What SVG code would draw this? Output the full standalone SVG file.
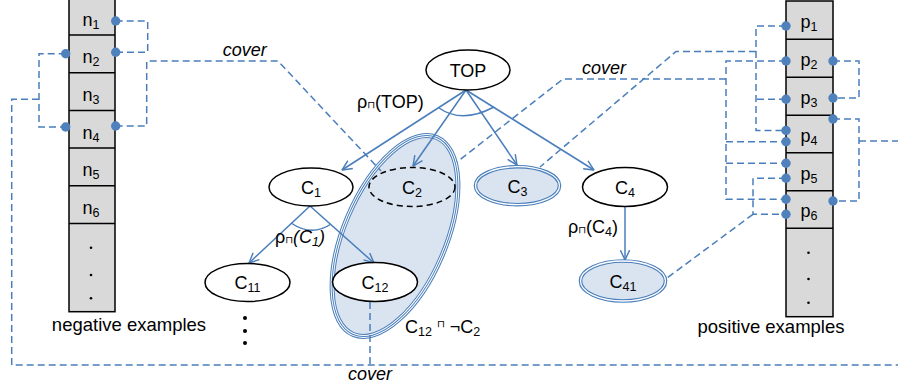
<svg xmlns="http://www.w3.org/2000/svg" width="898" height="389" viewBox="0 0 898 389">
<defs>
<marker id="arr" viewBox="0 0 10 10" refX="9.5" refY="5" markerWidth="11" markerHeight="11" markerUnits="userSpaceOnUse" orient="auto"><path d="M0.5,0.8 L9.5,5 L0.5,9.2" fill="none" stroke="#4a7ebb" stroke-width="1.3"/></marker>
</defs>
<style>
text{font-family:"Liberation Sans",Arial,sans-serif;fill:#000}
.lbl{font-size:18px}
.sub{font-size:12.5px}
.cap{font-family:"DejaVu Sans",sans-serif;font-size:10px}
.big{font-size:18.5px}
.it{font-style:italic;font-size:18px}
.cell{fill:#d9d9d9;stroke:#000;stroke-width:1.5}
.rule{stroke:#000;stroke-width:1.5}
.dash{fill:none;stroke:#4a7ebb;stroke-width:1.5;stroke-dasharray:7 4}
.edge{fill:none;stroke:#4a7ebb;stroke-width:1.5}
.dot{fill:#4f81bd}
.node{fill:#fff;stroke:#000;stroke-width:1.5}
.dn{fill:none;stroke:#000;stroke-width:1.5;stroke-dasharray:6 4}
.dbl{fill:#dae3f0;stroke:#4a7ebb;stroke-width:3.6}
.dblin{fill:none;stroke:#fff;stroke-width:1.3}
.pt{fill:#000}
</style>

<g id="negatives">
<rect class="cell" x="69" y="-3" width="46" height="314.7"/>
<path class="rule" d="M69,35H115M69,72.7H115M69,110.4H115M69,148.1H115M69,185.8H115M69,223.5H115"/>
<text class="lbl" x="91" y="25.5" text-anchor="middle">n<tspan class="sub" dy="3">1</tspan></text>
<text class="lbl" x="91" y="63.2" text-anchor="middle">n<tspan class="sub" dy="3">2</tspan></text>
<text class="lbl" x="91" y="101" text-anchor="middle">n<tspan class="sub" dy="3">3</tspan></text>
<text class="lbl" x="91" y="138.7" text-anchor="middle">n<tspan class="sub" dy="3">4</tspan></text>
<text class="lbl" x="91" y="176.4" text-anchor="middle">n<tspan class="sub" dy="3">5</tspan></text>
<text class="lbl" x="91" y="214" text-anchor="middle">n<tspan class="sub" dy="3">6</tspan></text>
<circle class="pt" cx="91" cy="247.7" r="1.3"/><circle class="pt" cx="91" cy="275" r="1.3"/><circle class="pt" cx="91" cy="298.3" r="1.3"/>
<text class="big" x="129" y="330.7" text-anchor="middle">negative examples</text>
</g>

<g id="positives">
<rect class="cell" x="786" y="1" width="47" height="315.7"/>
<path class="rule" d="M786,39.3H833M786,77.3H833M786,115.3H833M786,152.7H833M786,190.7H833M786,228.3H833"/>
<text class="lbl" x="809" y="28" text-anchor="middle">p<tspan class="sub" dy="3">1</tspan></text>
<text class="lbl" x="809" y="66" text-anchor="middle">p<tspan class="sub" dy="3">2</tspan></text>
<text class="lbl" x="809" y="104" text-anchor="middle">p<tspan class="sub" dy="3">3</tspan></text>
<text class="lbl" x="809" y="141.5" text-anchor="middle">p<tspan class="sub" dy="3">4</tspan></text>
<text class="lbl" x="809" y="179.5" text-anchor="middle">p<tspan class="sub" dy="3">5</tspan></text>
<text class="lbl" x="809" y="217" text-anchor="middle">p<tspan class="sub" dy="3">6</tspan></text>
<circle class="pt" cx="808.5" cy="252.7" r="1.3"/><circle class="pt" cx="808.5" cy="279" r="1.3"/><circle class="pt" cx="808.5" cy="302.7" r="1.3"/>
<text class="big" x="771" y="333.3" text-anchor="middle">positive examples</text>
</g>

<g id="C12notC2">
<ellipse cx="395" cy="236" rx="51" ry="107" transform="rotate(23 395 236)" fill="#dae3f0" stroke="#4a7ebb" stroke-width="5"/>
<ellipse cx="395" cy="236" rx="51" ry="107" transform="rotate(23 395 236)" fill="none" stroke="#fff" stroke-width="3"/>
<ellipse cx="395" cy="236" rx="51" ry="107" transform="rotate(23 395 236)" fill="none" stroke="#4a7ebb" stroke-width="1"/>
<text class="lbl" x="405" y="333">C<tspan class="sub" dy="3">12</tspan><tspan dy="-3"> </tspan><tspan class="cap" dy="-6">⊓</tspan><tspan dy="6"> ¬C</tspan><tspan class="sub" dy="3">2</tspan></text>
</g>

<g id="connectors">
<path class="dash" d="M115.7,21H147.7V52.3H115.7"/>
<path class="dash" d="M115.7,126H146.7V61H278L381,171"/>
<path class="dash" d="M65.7,53.7H39V127H65.7"/>
<path class="dash" d="M39,99.3H11.7V365H898"/>
<path class="dash" d="M370,302V365"/>
<path class="dash" d="M786,26H756V130.5H786"/>
<path class="dash" d="M786,99.3H756"/>
<path class="dash" d="M756,51.5H676L540,167"/>
<path class="dash" d="M786,61H726V199.3H786"/>
<path class="dash" d="M726,141.7H786M726,163.3H786"/>
<path class="dash" d="M726,79H563L457,162"/>
<path class="dash" d="M786,178.3H753V214.3H786"/>
<path class="dash" d="M753,214.3L667,278"/>
<path class="dash" d="M833,61H859V98H833"/>
<path class="dash" d="M833,119H859V201H833"/>
<path class="dash" d="M859,141H898"/>
<path class="edge" marker-end="url(#arr)" d="M466,90L342,170"/>
<path class="edge" marker-end="url(#arr)" d="M466,90L413,166"/>
<path class="edge" marker-end="url(#arr)" d="M466,90L517,165"/>
<path class="edge" marker-end="url(#arr)" d="M466,90L594,170"/>
<path class="edge" marker-end="url(#arr)" d="M310,206L249,263"/>
<path class="edge" marker-end="url(#arr)" d="M310,206L374,263"/>
<path class="edge" marker-end="url(#arr)" d="M625,206L625,260"/>
<path class="edge" d="M439,108Q462,124 494,107"/>
<path class="edge" d="M291,223Q312,237 331,224"/>
<text class="it" x="244.7" y="56" text-anchor="middle">cover</text>
<text class="it" x="604" y="74" text-anchor="middle">cover</text>
<text class="it" x="370" y="380" text-anchor="middle">cover</text>
<text class="lbl" x="357" y="108">ρ<tspan class="cap">⊓</tspan>(TOP)</text>
<text class="lbl" x="275" y="243">ρ<tspan class="cap">⊓</tspan><tspan font-style="italic">(C<tspan class="sub" dy="3">1</tspan><tspan dy="-3">)</tspan></tspan></text>
<text class="lbl" x="568" y="233">ρ<tspan class="cap">⊓</tspan>(C<tspan class="sub" dy="3">4</tspan><tspan dy="-3">)</tspan></text>
</g>

<g id="TOP">
<ellipse class="node" cx="468" cy="70" rx="42" ry="20"/>
<text class="lbl" x="468" y="76.5" text-anchor="middle">TOP</text>
</g>
<g id="C1">
<ellipse class="node" cx="311" cy="187" rx="42" ry="19"/>
<text class="lbl" x="311" y="194" text-anchor="middle">C<tspan class="sub" dy="3">1</tspan></text>
</g>
<g id="C2">
<ellipse class="dn" cx="412" cy="187" rx="43" ry="19.5"/>
<text class="lbl" x="412" y="194" text-anchor="middle">C<tspan class="sub" dy="3">2</tspan></text>
</g>
<g id="C3">
<ellipse class="dbl" cx="517.5" cy="185.7" rx="42" ry="19"/>
<ellipse class="dblin" cx="517.5" cy="185.7" rx="42" ry="19"/>
<text class="lbl" x="517.5" y="192.5" text-anchor="middle">C<tspan class="sub" dy="3">3</tspan></text>
</g>
<g id="C4">
<ellipse class="node" cx="625" cy="187" rx="42.5" ry="19.5"/>
<text class="lbl" x="625" y="194" text-anchor="middle">C<tspan class="sub" dy="3">4</tspan></text>
</g>
<g id="C11">
<ellipse class="node" cx="247.5" cy="282.5" rx="42.5" ry="19"/>
<text class="lbl" x="247.5" y="288.5" text-anchor="middle">C<tspan class="sub" dy="3">11</tspan></text>
</g>
<g id="C12">
<ellipse class="node" cx="375" cy="282" rx="42.5" ry="19.5"/>
<text class="lbl" x="375" y="288.5" text-anchor="middle">C<tspan class="sub" dy="3">12</tspan></text>
</g>
<g id="C41">
<ellipse class="dbl" cx="623" cy="281" rx="42.5" ry="20"/>
<ellipse class="dblin" cx="623" cy="281" rx="42.5" ry="20"/>
<text class="lbl" x="623" y="288" text-anchor="middle">C<tspan class="sub" dy="3">41</tspan></text>
</g>
<g id="more">
<circle class="pt" cx="245" cy="318" r="2"/><circle class="pt" cx="245" cy="331" r="2"/><circle class="pt" cx="245" cy="343" r="2"/>
</g>
<g id="dots">
<circle class="dot" cx="115.7" cy="21" r="4.7"/><circle class="dot" cx="115.7" cy="52.3" r="4.7"/><circle class="dot" cx="115.7" cy="126" r="4.7"/>
<circle class="dot" cx="65.7" cy="53.7" r="4.7"/><circle class="dot" cx="65.7" cy="127" r="4.7"/>
<circle class="dot" cx="786" cy="26" r="4.7"/><circle class="dot" cx="786" cy="61" r="4.7"/><circle class="dot" cx="786" cy="99.3" r="4.7"/>
<circle class="dot" cx="786" cy="130.5" r="4.7"/><circle class="dot" cx="786" cy="141.7" r="4.7"/><circle class="dot" cx="786" cy="163.3" r="4.7"/>
<circle class="dot" cx="786" cy="178.3" r="4.7"/><circle class="dot" cx="786" cy="199.3" r="4.7"/><circle class="dot" cx="786" cy="214.3" r="4.7"/>
<circle class="dot" cx="833" cy="61" r="4.7"/><circle class="dot" cx="833" cy="98" r="4.7"/><circle class="dot" cx="833" cy="119" r="4.7"/><circle class="dot" cx="833" cy="201" r="4.7"/>
</g>
</svg>
